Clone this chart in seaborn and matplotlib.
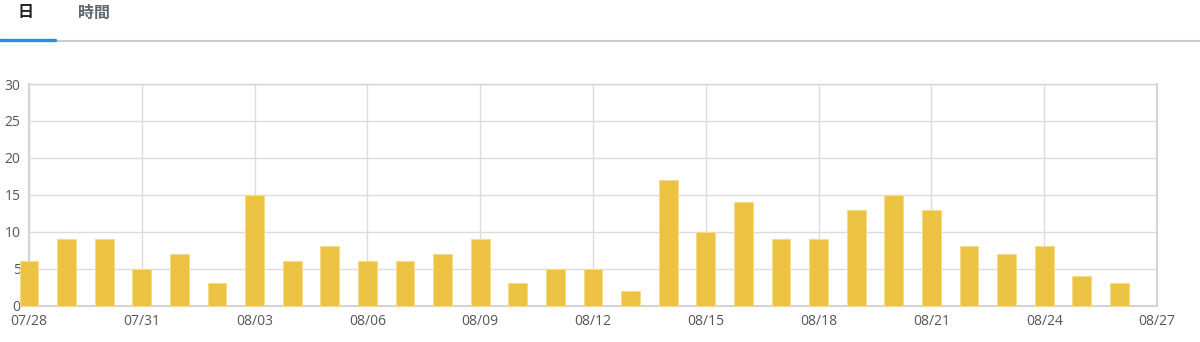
import matplotlib
matplotlib.use("Agg")
import matplotlib.pyplot as plt
import seaborn as sns
import pandas as pd
from matplotlib.lines import Line2D

days = ["07/28", "07/29", "07/30", "07/31", "08/01", "08/02", "08/03", "08/04",
        "08/05", "08/06", "08/07", "08/08", "08/09", "08/10", "08/11", "08/12",
        "08/13", "08/14", "08/15", "08/16", "08/17", "08/18", "08/19", "08/20",
        "08/21", "08/22", "08/23", "08/24", "08/25", "08/26"]
counts = [6, 9, 9, 5, 7, 3, 15, 6, 8, 6, 6, 7, 9, 3, 5, 5, 2, 17, 10, 14,
          9, 9, 13, 15, 13, 8, 7, 8, 4, 3]
tick_labels = ["07/28", "07/31", "08/03", "08/06", "08/09", "08/12",
               "08/15", "08/18", "08/21", "08/24", "08/27"]
tabs = ["日", "時間"]

sns.set_theme(style="white")
plt.rcParams["font.family"] = ["Open Sans", "Noto Sans CJK JP", "DejaVu Sans"]

W, H = 1200, 342
fig = plt.figure(figsize=(W / 100, H / 100), dpi=100)
fig.patch.set_facecolor("white")

left, right, top, bottom = 29, 1157, 84, 305.5
ax = fig.add_axes([left / W, 1 - bottom / H, (right - left) / W, (bottom - top) / H])

df = pd.DataFrame({"day": days, "count": counts})
sns.barplot(data=df, x="day", y="count", ax=ax, color="#ECC242",
            width=0.5, saturation=1, edgecolor="#F6DC8A", linewidth=0.8, zorder=3)
for p in ax.patches:
    p.set_clip_on(False)

ax.set_xlim(0, 30)
ax.set_ylim(0, 30)
ax.set_xticks(range(0, 31, 3), labels=tick_labels)
ax.set_yticks(range(0, 31, 5))
ax.set_xlabel("")
ax.set_ylabel("")
ax.grid(True, color="#dcdcdc", linewidth=1.0, zorder=0)
ax.set_axisbelow(True)
ax.tick_params(axis="both", length=0, labelsize=10, colors="#555555")
ax.tick_params(axis="x", pad=6)
ax.tick_params(axis="y", pad=6)
for side in ["left", "bottom", "right", "top"]:
    ax.spines[side].set_visible(True)
    ax.spines[side].set_color("#d4d4d4")
    ax.spines[side].set_linewidth(1.5)
ax.spines["top"].set_linewidth(1.0)

# tab header
fig.add_artist(Line2D([55 / W, 1], [1 - 41 / H] * 2, color="#c9cdd1", linewidth=1.5))
fig.add_artist(Line2D([0, 55 / W], [1 - 40 / H] * 2, color="#2d8bd8", linewidth=2.4))
fig.text(25 / W, 1 - 12.5 / H, tabs[0], ha="center", va="center", fontsize=11.5,
         fontweight="bold", color="#222222", family=["Noto Sans CJK JP", "DejaVu Sans"])
fig.text(94 / W, 1 - 12.5 / H, tabs[1], ha="center", va="center", fontsize=11.5,
         fontweight="bold", color="#5d6870", family=["Noto Sans CJK JP", "DejaVu Sans"])

fig.savefig("out.png", dpi=100, facecolor="white")
